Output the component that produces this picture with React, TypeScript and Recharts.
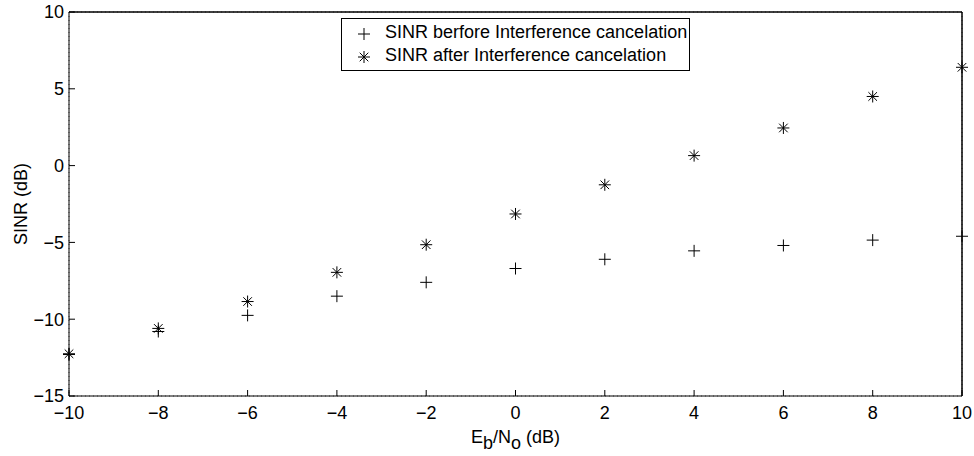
import React from 'react';
import { ScatterChart, Scatter, XAxis, YAxis, CartesianGrid, ReferenceLine } from 'recharts';

const ebno = [-10, -8, -6, -4, -2, 0, 2, 4, 6, 8, 10];
const sinrBefore = [-12.3, -10.8, -9.75, -8.5, -7.6, -6.7, -6.1, -5.55, -5.2, -4.85, -4.6];
const sinrAfter = [-12.25, -10.6, -8.85, -6.95, -5.15, -3.15, -1.25, 0.65, 2.45, 4.5, 6.4];
const xTicks = [-10, -8, -6, -4, -2, 0, 2, 4, 6, 8, 10];
const yTicks = [-15, -10, -5, 0, 5, 10];
const seriesNames = ['SINR berfore Interference cancelation', 'SINR after Interference cancelation'];

const beforeData = ebno.map((x, i) => ({ x, y: sinrBefore[i] }));
const afterData = ebno.map((x, i) => ({ x, y: sinrAfter[i] }));

const FONT = '"Liberation Sans", Arial, sans-serif';
const fmt = (v: number) => String(v).replace('-', '\u2212');

const PlusShape = (props: any) => {
  const { cx, cy } = props;
  const s = 6;
  return (
    <g>
      <line x1={cx - s} y1={cy} x2={cx + s} y2={cy} stroke="#000" strokeWidth={1} />
      <line x1={cx} y1={cy - s} x2={cx} y2={cy + s} stroke="#000" strokeWidth={1} />
    </g>
  );
};

const StarShape = (props: any) => {
  const { cx, cy } = props;
  const s = 6;
  const d = 4.3;
  return (
    <g>
      <line x1={cx - s} y1={cy} x2={cx + s} y2={cy} stroke="#000" strokeWidth={1} />
      <line x1={cx} y1={cy - s} x2={cx} y2={cy + s} stroke="#000" strokeWidth={1} />
      <line x1={cx - d} y1={cy - d} x2={cx + d} y2={cy + d} stroke="#000" strokeWidth={1} />
      <line x1={cx - d} y1={cy + d} x2={cx + d} y2={cy - d} stroke="#000" strokeWidth={1} />
    </g>
  );
};

const LegendBox = () => (
  <div
    style={{
      position: 'absolute',
      left: 341,
      top: 18,
      border: '1px solid #000',
      background: '#fff',
      width: 349,
      height: 53,
      boxSizing: 'border-box',
      fontFamily: FONT,
      fontSize: 18,
      color: '#000',
    }}
  >
    <svg width={30} height={52} style={{ position: 'absolute', left: 9, top: 0 }}>
      <PlusShape cx={13} cy={15} />
      <StarShape cx={13} cy={38} />
    </svg>
    <div style={{ position: 'absolute', left: 43, top: 3, whiteSpace: 'nowrap' }}>{seriesNames[0]}</div>
    <div style={{ position: 'absolute', left: 43, top: 26, whiteSpace: 'nowrap' }}>{seriesNames[1]}</div>
  </div>
);

const XLabel = (props: any) => {
  const vb = props.viewBox || {};
  const cx = vb.x + vb.width / 2;
  const y = 443;
  return (
    <text x={cx} y={y} textAnchor="middle" fontFamily={FONT} fontSize={18} fill="#000">
      <tspan>E</tspan>
      <tspan dy={6}>b</tspan>
      <tspan dy={-6}>/N</tspan>
      <tspan dy={6}>o</tspan>
      <tspan dy={-6}> (dB)</tspan>
    </text>
  );
};

const YLabel = () => (
  <text
    x={27}
    y={204}
    transform="rotate(-90 27 204)"
    textAnchor="middle"
    fontFamily={FONT}
    fontSize={18}
    fill="#000"
  >
    SINR (dB)
  </text>
);

export default function App() {
  const tickStyle = { fontFamily: FONT, fontSize: 18, fill: '#000' };
  const axisLine = { stroke: '#000', strokeWidth: 1, strokeDasharray: '0' };
  return (
    <div style={{ position: 'absolute', left: 0, top: 0, width: 974, height: 456, background: '#fff' }}>
      <ScatterChart width={974} height={456} margin={{ top: 11, right: 11, bottom: 0, left: 0 }}>
        <CartesianGrid stroke="#666" strokeDasharray="1 3" />
        <XAxis
          xAxisId="b"
          type="number"
          dataKey="x"
          domain={[-10, 10]}
          ticks={xTicks}
          tickFormatter={fmt}
          height={60}
          tickSize={-6}
          tickMargin={16}
          stroke="#000"
          tick={tickStyle}
          axisLine={axisLine}
          tickLine={{ stroke: '#000' }}
          label={<XLabel />}
        />
        <XAxis
          xAxisId="t"
          orientation="top"
          type="number"
          dataKey="x"
          domain={[-10, 10]}
          ticks={xTicks}
          tickFormatter={() => ''}
          height={1}
          tickSize={-6}
          stroke="#000"
          axisLine={axisLine}
          tickLine={{ stroke: '#000' }}
        />
        <YAxis
          yAxisId="l"
          type="number"
          dataKey="y"
          domain={[-15, 10]}
          ticks={yTicks}
          tickFormatter={fmt}
          width={69}
          tickSize={-6}
          tickMargin={11}
          stroke="#000"
          tick={tickStyle}
          axisLine={axisLine}
          tickLine={{ stroke: '#000' }}
          label={<YLabel />}
        />
        <YAxis
          yAxisId="r"
          orientation="right"
          type="number"
          dataKey="y"
          domain={[-15, 10]}
          ticks={yTicks}
          tickFormatter={() => ''}
          width={1}
          tickSize={-6}
          stroke="#000"
          axisLine={axisLine}
          tickLine={{ stroke: '#000' }}
        />
        <ReferenceLine xAxisId="b" yAxisId="l" y={10} stroke="#000" strokeWidth={1} />
        <ReferenceLine xAxisId="b" yAxisId="l" x={10} stroke="#000" strokeWidth={1} />
        <Scatter
          name={seriesNames[0]}
          data={beforeData}
          xAxisId="b"
          yAxisId="l"
          shape={<PlusShape />}
          isAnimationActive={false}
        />
        <Scatter
          name={seriesNames[1]}
          data={afterData}
          xAxisId="b"
          yAxisId="l"
          shape={<StarShape />}
          isAnimationActive={false}
        />
      </ScatterChart>
      <LegendBox />
    </div>
  );
}
